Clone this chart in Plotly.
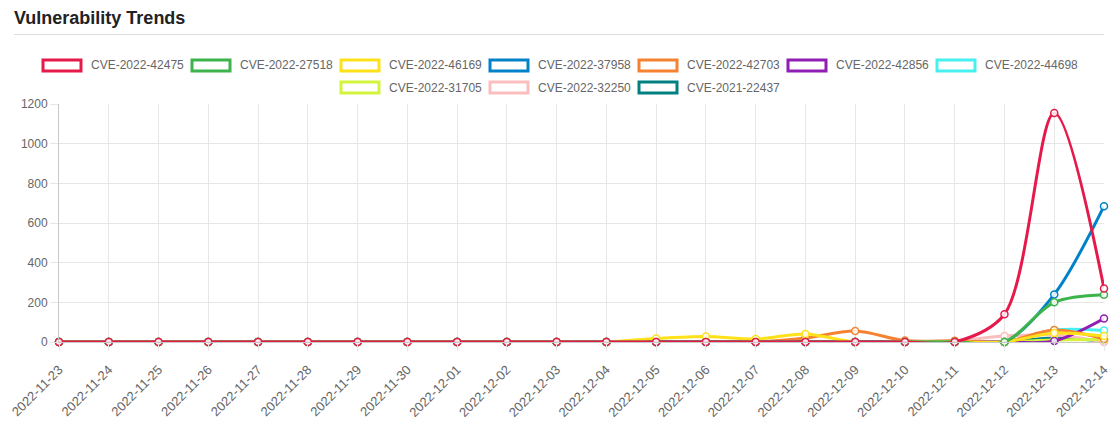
import plotly.graph_objects as go

dates = ["2022-11-23", "2022-11-24", "2022-11-25", "2022-11-26", "2022-11-27", "2022-11-28",
         "2022-11-29", "2022-11-30", "2022-12-01", "2022-12-02", "2022-12-03", "2022-12-04",
         "2022-12-05", "2022-12-06", "2022-12-07", "2022-12-08", "2022-12-09", "2022-12-10",
         "2022-12-11", "2022-12-12", "2022-12-13", "2022-12-14"]

names = ["CVE-2022-42475", "CVE-2022-27518", "CVE-2022-46169", "CVE-2022-37958",
         "CVE-2022-42703", "CVE-2022-42856", "CVE-2022-44698", "CVE-2022-31705",
         "CVE-2022-32250", "CVE-2021-22437"]

colors = ["#e6194b", "#3cb44b", "#ffe119", "#0082c8", "#f58231", "#911eb4",
          "#46f0f0", "#d2f53c", "#fabebe", "#008080"]

z = [0] * 11
cve_2022_42475 = z + [0, 0, 0, 0, 0, 0, 0, 0, 140, 1155, 270]
cve_2022_27518 = z + [0, 0, 0, 0, 0, 0, 0, 0, 0, 200, 238]
cve_2022_46169 = z + [0, 18, 28, 15, 40, 0, 0, 0, 0, 45, 30]
cve_2022_37958 = z + [0, 0, 0, 0, 0, 0, 0, 0, 0, 240, 685]
cve_2022_42703 = z + [0, 0, 0, 0, 20, 55, 7, 6, 0, 60, 15]
cve_2022_42856 = z + [0, 0, 0, 0, 0, 0, 0, 0, 0, 5, 118]
cve_2022_44698 = z + [0, 0, 0, 0, 0, 0, 0, 0, 0, 60, 58]
cve_2022_31705 = z + [0, 0, 0, 0, 0, 0, 0, 0, 0, 10, 12]
cve_2022_32250 = z + [0, 0, 0, 0, 0, 0, 0, 5, 30, 35, 0]
cve_2021_22437 = z + [0, 0, 0, 0, 0, 0, 0, 0, 0, 20, 5]

series = [cve_2022_42475, cve_2022_27518, cve_2022_46169, cve_2022_37958, cve_2022_42703,
          cve_2022_42856, cve_2022_44698, cve_2022_31705, cve_2022_32250, cve_2021_22437]

W, H = 1118, 428
L, R, T, B = 59, 14, 104, 86
pw, ph = W - L - R, H - T - B

def px_x(px):
    return (px - L) / pw

def px_y(py):
    return (H - B - py) / ph

fig = go.Figure()
# first dataset drawn on top (as in reference)
for name, col, vals in reversed(list(zip(names, colors, series))):
    fig.add_trace(go.Scatter(
        x=dates, y=vals, name=name, mode="lines+markers",
        line=dict(color=col, width=3, shape="spline", smoothing=0.9),
        marker=dict(size=7, color="rgba(255,255,255,0.85)", line=dict(color=col, width=1.5)),
        cliponaxis=False, showlegend=False,
    ))

shapes = []
annotations = []

# title and header rule
annotations.append(dict(text="<b>Vulnerability Trends</b>", xref="paper", yref="paper",
                        x=px_x(12), y=px_y(18), xanchor="left", yanchor="middle",
                        showarrow=False, font=dict(size=18, color="#222", family="Liberation Sans, Arial")))
shapes.append(dict(type="line", xref="paper", yref="paper", x0=px_x(14), x1=px_x(1104),
                   y0=px_y(34.5), y1=px_y(34.5), line=dict(color="#dcdcdc", width=1)))

# custom legend (box style)
rows = [list(range(0, 7)), list(range(7, 10))]
row_y = [65.5, 87.5]
item_w = 149
center = 558
for r, idxs in enumerate(rows):
    total = len(idxs) * item_w - 10
    start = center - total / 2
    for k, i in enumerate(idxs):
        bx = start + k * item_w
        shapes.append(dict(type="rect", xref="paper", yref="paper",
                           x0=px_x(bx + 1.5), x1=px_x(bx + 39.5),
                           y0=px_y(row_y[r] - 5.5), y1=px_y(row_y[r] + 5.5),
                           line=dict(color=colors[i], width=3), fillcolor="white"))
        annotations.append(dict(text=names[i], xref="paper", yref="paper",
                                x=px_x(bx + 47), y=px_y(row_y[r]), xanchor="left", yanchor="middle",
                                showarrow=False, font=dict(size=12, color="#666")))

fig.update_layout(
    width=W, height=H,
    margin=dict(l=L, r=R, t=T, b=B, autoexpand=False),
    paper_bgcolor="white", plot_bgcolor="white",
    font=dict(family="Liberation Sans, Arial, sans-serif", size=12, color="#666"),
    shapes=shapes, annotations=annotations,
    showlegend=False,
)
fig.update_xaxes(type="category", range=[0, len(dates) - 1], tickangle=-45,
                 automargin=False,
                 showgrid=True, gridcolor="#e6e6e6", gridwidth=1,
                 ticks="outside", ticklen=8, tickcolor="#e6e6e6",
                 ticklabelstandoff=6,
                 showline=True, linecolor="#c8c8c8", zeroline=False,
                 tickfont=dict(size=13, color="#666"))
fig.update_yaxes(range=[0, 1200], tickvals=[0, 200, 400, 600, 800, 1000, 1200],
                 automargin=False,
                 showgrid=True, gridcolor="#e6e6e6", gridwidth=1,
                 ticks="outside", ticklen=8, tickcolor="#e6e6e6",
                 showline=True, linecolor="#c8c8c8", zeroline=False,
                 tickfont=dict(size=12, color="#666"))

fig.write_html("out.html")
